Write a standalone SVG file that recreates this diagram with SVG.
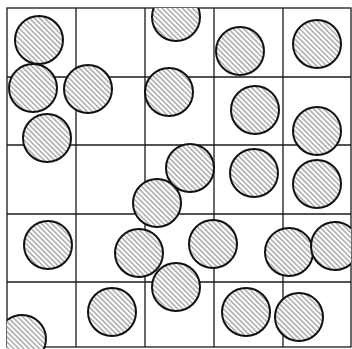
<svg xmlns="http://www.w3.org/2000/svg" width="352" height="349" viewBox="0 0 352 349">
<style>
.grid{stroke:#1a1a1a;stroke-width:1.3;fill:none}
.c{fill:url(#hatch);stroke:#111;stroke-width:2}
</style>
<defs>
<pattern id="hatch" patternUnits="userSpaceOnUse" width="3.6" height="3.6" patternTransform="rotate(-45)">
<rect width="3.6" height="3.6" fill="#fff"/>
<line x1="0.8" y1="0" x2="0.8" y2="3.6" stroke="#666" stroke-width="0.85"/>
</pattern>
<clipPath id="frame"><rect x="7" y="8" width="344" height="341"/></clipPath>
</defs>
<rect width="352" height="349" fill="#fff"/>
<g id="grid" class="grid">
<rect x="7" y="8" width="344" height="339"/>
<line x1="76" y1="8" x2="76" y2="347"/>
<line x1="145" y1="8" x2="145" y2="347"/>
<line x1="214" y1="8" x2="214" y2="347"/>
<line x1="283" y1="8" x2="283" y2="347"/>
<line x1="7" y1="77" x2="351" y2="77"/>
<line x1="7" y1="145" x2="351" y2="145"/>
<line x1="7" y1="214" x2="351" y2="214"/>
<line x1="7" y1="282" x2="351" y2="282"/>
</g>
<g id="circles" clip-path="url(#frame)">
<circle class="c" cx="39" cy="40" r="24"/>
<circle class="c" cx="176" cy="17" r="24"/>
<circle class="c" cx="240" cy="51" r="24"/>
<circle class="c" cx="317" cy="44" r="24"/>
<circle class="c" cx="33" cy="88" r="24"/>
<circle class="c" cx="88" cy="89" r="24"/>
<circle class="c" cx="169" cy="92" r="24"/>
<circle class="c" cx="255" cy="110" r="24"/>
<circle class="c" cx="317" cy="131" r="24"/>
<circle class="c" cx="47" cy="138" r="24"/>
<circle class="c" cx="190" cy="168" r="24"/>
<circle class="c" cx="254" cy="173" r="24"/>
<circle class="c" cx="317" cy="184" r="24"/>
<circle class="c" cx="157" cy="203" r="24"/>
<circle class="c" cx="48" cy="245" r="24"/>
<circle class="c" cx="139" cy="253" r="24"/>
<circle class="c" cx="213" cy="244" r="24"/>
<circle class="c" cx="289" cy="252" r="24"/>
<circle class="c" cx="335" cy="246" r="24"/>
<circle class="c" cx="176" cy="287" r="24"/>
<circle class="c" cx="112" cy="312" r="24"/>
<circle class="c" cx="246" cy="312" r="24"/>
<circle class="c" cx="299" cy="317" r="24"/>
<circle class="c" cx="22" cy="339" r="24"/>
</g>
</svg>
